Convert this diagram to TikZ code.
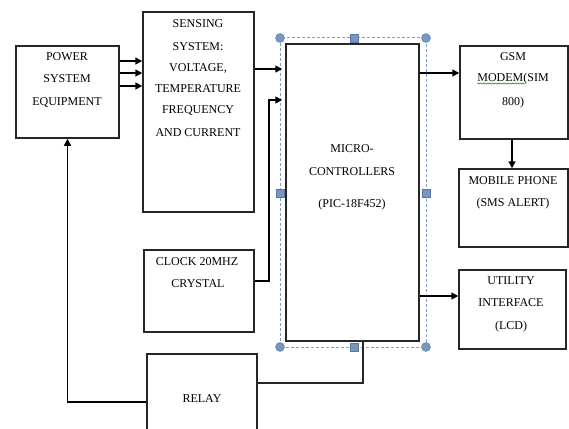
\documentclass[tikz,border=0pt]{standalone}
\usepackage{fontspec}
\setmainfont{Liberation Serif}
\usetikzlibrary{arrows.meta,decorations.pathmorphing}
\definecolor{selblue}{RGB}{128,158,200}
\definecolor{handlefill}{RGB}{122,150,188}
\definecolor{handledraw}{RGB}{90,120,165}
\begin{document}
\begin{tikzpicture}[x=1pt,y=-1pt,
  box/.style={draw=black!85,line width=1.5pt,fill=white,inner sep=0pt,rectangle},
  txt/.style={font=\fontsize{12}{14}\selectfont,inner sep=0pt,anchor=base,text=black},
  arr/.style={draw=black,line width=1.5pt,-{Triangle[length=7pt,width=7pt]}},
  wire/.style={draw=black!85,line width=1.5pt},
  sel/.style={draw=selblue,line width=1pt,dash pattern=on 3pt off 2pt},
  hcirc/.style={circle,fill=handlefill,draw=handledraw,line width=0.4pt,minimum size=9pt,inner sep=0pt},
  hsq/.style={rectangle,fill=handlefill,draw=handledraw,line width=0.4pt,minimum size=8pt,inner sep=0pt}]
\useasboundingbox (0,0) rectangle (569,428);
\clip (0,0) rectangle (569,428);
% boxes
\node[box,minimum width=103pt,minimum height=92pt] (power) at (67.5,92) {};
\node[box,minimum width=111pt,minimum height=200pt] (sensing) at (198.5,112) {};
\node[box,minimum width=133pt,minimum height=297pt] (mcu) at (352.5,192.5) {};
\node[box,minimum width=108pt,minimum height=93pt] (gsm) at (514,92.5) {};
\node[box,minimum width=109pt,minimum height=78pt] (mobile) at (513.5,208) {};
\node[box,minimum width=107pt,minimum height=79pt] (utility) at (512.5,309.5) {};
\node[box,minimum width=110pt,minimum height=82pt] (clock) at (199,291) {};
\node[box,minimum width=110pt,minimum height=90pt] (relay) at (202,399) {};
% selection frame
\draw[sel] (280,38) rectangle (426,347);
\node[hcirc] (hc1) at (280,38) {};
\node[hcirc] (hc2) at (426,38) {};
\node[hcirc] (hc3) at (280,347) {};
\node[hcirc] (hc4) at (426,347) {};
\node[hsq] (hs1) at (354,38) {};
\node[hsq] (hs2) at (280,193) {};
\node[hsq] (hs3) at (426,193) {};
\node[hsq] (hs4) at (354,347) {};
% texts
\node[txt] (t1) at (67,60) {POWER};
\node[txt] (t2) at (67,82) {SYSTEM};
\node[txt] (t3) at (67,105) {EQUIPMENT};
\node[txt] (s1) at (198,28) {SENSING};
\node[txt] (s2) at (198,51) {SYSTEM:};
\node[txt] (s3) at (198,71.5) {VOLTAGE,};
\node[txt] (s4) at (198,92) {TEMPERATURE};
\node[txt] (s5) at (198,113) {FREQUENCY};
\node[txt] (s6) at (198,136) {AND CURRENT};
\node[txt] (m1) at (352,152) {MICRO-};
\node[txt] (m2) at (352,175) {CONTROLLERS};
\node[txt] (m3) at (352,207) {(PIC-18F452)};
\node[txt] (g1) at (513,60) {GSM};
\node[txt] (g2) at (513,81) {MODEM(SIM};
\node[txt] (g3) at (513,105) {800)};
\draw[green!60!black,line width=0.5pt,decorate,decoration={snake,amplitude=0.6pt,segment length=2.5pt}] (g2.base west) ++(0,2.5) -- ++(48,0);
\node[txt] (p1) at (513,184) {MOBILE PHONE};
\node[txt] (p2) at (513,206) {(SMS ALERT)};
\node[txt] (u1) at (511,284) {UTILITY};
\node[txt] (u2) at (511,306) {INTERFACE};
\node[txt] (u3) at (511,329) {(LCD)};
\node[txt] (c1) at (197,265) {CLOCK 20MHZ};
\node[txt] (c2) at (198,287) {CRYSTAL};
\node[txt] (r1) at (202,402) {RELAY};
% connectors
\draw[arr] (power.east |- {(0,61)}) -- (sensing.west |- {(0,61)});
\draw[arr] (power.east |- {(0,73)}) -- (sensing.west |- {(0,73)});
\draw[arr] (power.east |- {(0,86)}) -- (sensing.west |- {(0,86)});
\draw[arr,shorten >=3pt] (sensing.east |- {(0,69)}) -- (mcu.west |- {(0,69)});
\draw[arr,shorten >=3pt] (clock.east |- {(0,281)}) -| (269,100) -- (mcu.west |- {(0,100)});
\draw[wire] (relay.east |- {(0,383)}) -| (mcu.south -| {(363,0)});
\draw[arr] (relay.west |- {(0,402)}) -| (power.south);
\draw[arr] (mcu.east |- {(0,73)}) -- (gsm.west |- {(0,73)});
\draw[arr] (gsm.south -| {(512,0)}) -- (mobile.north -| {(512,0)});
\draw[arr] (mcu.east |- {(0,296)}) -- (utility.west |- {(0,296)});
\end{tikzpicture}
\end{document}
